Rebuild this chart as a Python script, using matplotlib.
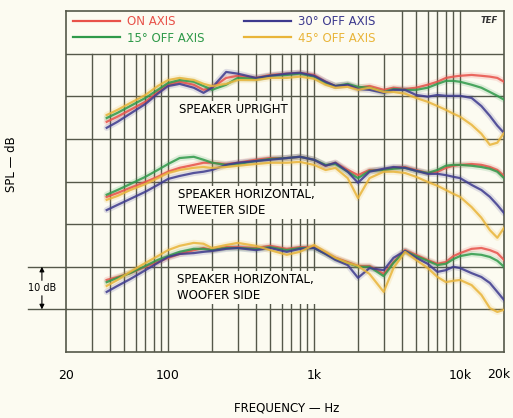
import matplotlib
matplotlib.use("Agg")
import matplotlib.pyplot as plt
from matplotlib.lines import Line2D
from matplotlib.transforms import blended_transform_factory

# frequenz-punkte (Hz), gemeinsam fuer alle kurven
FREQ = [38, 45, 55, 70, 85, 100, 120, 150, 175, 200, 250, 300, 400, 500, 650,
        800, 1000, 1200, 1400, 1700, 2000, 2400, 3000, 3500, 4200, 5000, 6000,
        7000, 8000, 9000, 10000, 12000, 14000, 16000, 18000, 20000]

ANGLES = ["ON AXIS", "15° OFF AXIS", "30° OFF AXIS", "45° OFF AXIS"]
COLORS = ["#e8524a", "#2f9a4a", "#3d3a8e", "#e9b53a"]

# SPL (dB, relative) - speaker upright
UPRIGHT_ON = [54.0, 55.2, 56.8, 58.7, 61.0, 62.7, 63.4, 62.7, 61.5, 62.0, 64.3, 64.8,
              64.3, 65.0, 65.3, 65.5, 65.0, 63.4, 62.4, 62.7, 62.0, 62.4, 61.5, 62.0,
              61.7, 62.0, 62.7, 63.4, 64.3, 64.6, 64.8, 65.0, 64.8, 64.6, 64.3, 63.4]
UPRIGHT_15 = [54.9, 56.1, 57.7, 59.6, 61.5, 63.1, 63.8, 63.4, 62.4, 61.5, 62.7, 64.3,
              64.1, 64.8, 65.0, 65.3, 64.6, 63.1, 62.4, 62.9, 62.2, 62.0, 61.0, 61.7,
              61.5, 61.5, 62.0, 62.9, 63.6, 63.6, 63.4, 62.7, 62.0, 61.0, 60.1, 59.2]
UPRIGHT_30 = [52.6, 54.0, 55.9, 58.2, 60.6, 62.4, 62.9, 62.0, 60.8, 62.0, 65.7, 65.3,
              64.3, 64.8, 65.3, 65.5, 64.8, 63.4, 62.4, 62.7, 61.7, 61.5, 60.8, 61.5,
              61.5, 60.3, 59.9, 60.3, 60.1, 60.1, 60.1, 59.6, 57.7, 55.4, 53.1, 51.4]
UPRIGHT_45 = [55.6, 56.8, 58.4, 60.3, 62.4, 63.8, 64.3, 63.8, 62.9, 62.4, 62.9, 63.8,
              63.8, 64.3, 64.3, 64.6, 64.1, 62.7, 62.0, 62.2, 61.5, 62.0, 61.0, 61.0,
              60.6, 59.6, 58.7, 57.7, 56.8, 55.9, 55.2, 53.3, 51.2, 48.6, 49.1, 51.4]

# speaker horizontal, tweeter side
TWEETER_ON = [36.4, 37.3, 38.5, 39.9, 41.1, 42.3, 43.2, 43.9, 44.4, 44.4, 44.1, 44.4,
              45.1, 45.5, 45.5, 45.8, 45.1, 43.7, 44.4, 42.7, 41.5, 42.7, 42.7, 43.2,
              43.4, 42.7, 42.0, 42.3, 43.2, 43.7, 43.9, 44.1, 43.9, 43.4, 42.7, 41.3]
TWEETER_15 = [36.9, 38.0, 39.4, 41.1, 42.7, 44.1, 45.5, 45.8, 45.1, 44.4, 43.9, 44.1,
              44.8, 45.3, 45.5, 45.8, 45.1, 43.9, 44.1, 42.3, 40.8, 42.5, 42.7, 43.0,
              43.2, 42.5, 42.0, 42.7, 43.7, 43.9, 43.9, 43.7, 43.4, 43.0, 42.3, 40.8]
TWEETER_30 = [33.3, 34.5, 35.9, 37.6, 39.2, 40.6, 41.3, 42.0, 42.3, 42.7, 43.9, 44.4,
              44.8, 45.1, 45.5, 45.8, 45.1, 43.7, 44.4, 42.3, 39.7, 42.3, 43.0, 43.4,
              43.2, 42.5, 41.8, 41.8, 41.5, 41.1, 40.8, 39.2, 38.0, 36.4, 34.5, 32.6]
TWEETER_45 = [35.7, 36.6, 38.0, 39.4, 40.8, 42.0, 42.7, 43.2, 43.4, 43.2, 43.4, 43.7,
              44.1, 44.4, 44.4, 44.6, 43.9, 42.7, 43.2, 40.8, 36.1, 40.8, 42.3, 42.3,
              42.0, 41.1, 39.9, 39.0, 38.0, 37.1, 36.4, 34.0, 31.5, 28.6, 26.8, 29.1]

# speaker horizontal, woofer side
WOOFER_ON = [16.9, 17.6, 18.5, 20.0, 21.1, 22.1, 23.0, 23.9, 24.4, 23.9, 24.6, 24.6,
             24.4, 24.9, 24.2, 24.6, 24.6, 23.2, 22.1, 21.1, 20.2, 20.2, 18.3, 21.1,
             23.9, 22.8, 21.6, 20.7, 21.1, 22.5, 23.2, 24.2, 24.4, 23.9, 23.2, 21.6]
WOOFER_15 = [16.4, 17.4, 18.5, 20.2, 21.6, 22.5, 23.5, 24.2, 24.2, 23.9, 24.4, 24.4,
             24.2, 24.6, 23.9, 24.4, 24.4, 23.0, 21.8, 20.9, 20.0, 20.0, 17.8, 20.9,
             23.7, 22.5, 21.4, 20.4, 20.7, 21.8, 22.5, 23.0, 22.8, 22.3, 21.4, 20.0]
WOOFER_30 = [14.1, 15.5, 17.1, 19.2, 20.9, 22.3, 23.0, 23.2, 23.5, 23.7, 24.2, 24.4,
             23.9, 24.4, 23.5, 24.2, 24.4, 23.0, 21.6, 20.4, 17.4, 19.7, 19.2, 22.1,
             23.7, 22.1, 20.7, 18.8, 19.2, 20.0, 19.7, 18.5, 17.6, 16.2, 14.1, 12.2]
WOOFER_45 = [15.5, 16.9, 18.8, 20.9, 22.5, 23.9, 24.9, 25.6, 25.4, 24.4, 25.1, 25.6,
             24.9, 23.9, 22.8, 23.5, 25.1, 23.5, 22.1, 20.9, 20.2, 18.3, 14.1, 19.7,
             23.5, 21.6, 19.7, 17.6, 16.4, 16.7, 16.9, 15.7, 13.4, 10.3, 9.4, 9.9]

GROUPS = [
    ([UPRIGHT_ON, UPRIGHT_15, UPRIGHT_30, UPRIGHT_45], "SPEAKER UPRIGHT", 118, 56.8),
    ([TWEETER_ON, TWEETER_15, TWEETER_30, TWEETER_45], "SPEAKER HORIZONTAL,\nTWEETER SIDE", 117, 35.1),
    ([WOOFER_ON, WOOFER_15, WOOFER_30, WOOFER_45], "SPEAKER HORIZONTAL,\nWOOFER SIDE", 116, 15.1),
]

XTICKS = [20, 100, 1000, 10000, 20000]
XTICKLABELS = ["20", "100", "1k", "10k", "20k"]

BG = "#fcfbf1"
GRID = "#55584a"

plt.rcParams["font.family"] = ["DejaVu Sans"]

fig = plt.figure(figsize=(5.13, 4.18), dpi=100, facecolor=BG)
ax = fig.add_axes([66 / 513, 66 / 418, 438 / 513, 341 / 418])
ax.set_facecolor(BG)
ax.set_xscale("log")
ax.set_xlim(20, 20000)
ax.set_ylim(0, 80)

# raster - oben links liegt die legende
grid_f = [m * 10 ** d for d in (1, 2, 3) for m in range(1, 10)] + [10000]
for f in grid_f:
    if f <= 20:
        continue
    top = 80 if f >= 4000 else 70
    ax.plot([f, f], [0, top], color=GRID, lw=1.0, zorder=1)
for lvl in range(10, 80, 10):
    ax.axhline(lvl, color=GRID, lw=1.0, zorder=1)

for spine in ax.spines.values():
    spine.set_color(GRID)
    spine.set_linewidth(1.2)

for curves, title, tx, ty in GROUPS:
    for vals, col in zip(curves, COLORS):
        ax.plot(FREQ, vals, color=col, lw=4.5, alpha=0.15, zorder=3,
                solid_capstyle="round")
        ax.plot(FREQ, vals, color=col, lw=1.6, alpha=0.85, zorder=4,
                solid_joinstyle="round")
    ax.text(tx, ty, title, fontsize=8.5, va="center", ha="left", zorder=2,
            linespacing=1.3,
            bbox=dict(facecolor=BG, edgecolor="none", pad=1.5))

handles = [Line2D([], [], color=c, lw=1.6) for c in COLORS]
leg = ax.legend(handles, ANGLES, ncol=2, loc="upper left",
                bbox_to_anchor=(7 / 438, 1 - 4 / 341), frameon=False,
                fontsize=8.5, handlelength=4.0, handletextpad=0.6,
                columnspacing=3.3, labelspacing=0.3, borderpad=0,
                borderaxespad=0, labelcolor=COLORS)

ax.text(0.985, 0.985, "TEF", transform=ax.transAxes, ha="right", va="top",
        fontsize=6, fontstyle="italic", fontweight="bold", color="#333")

# letzte beschriftung (20k) separat, damit sie im bild bleibt
ax.set_xticks(XTICKS)
ax.set_xticklabels(XTICKLABELS[:-1] + [""], fontsize=9)
ax.xaxis.set_minor_locator(matplotlib.ticker.NullLocator())
ax.tick_params(axis="x", length=0, pad=12)
ax.set_yticks([])
fig.text(499 / 513, 1 - 375 / 418, XTICKLABELS[-1], ha="center", va="center",
         fontsize=9)

fig.text(287 / 513, 1 - 408 / 418, "FREQUENCY — Hz", ha="center", va="center",
         fontsize=8.5)
fig.text(12 / 513, 1 - 164 / 418, "SPL — dB", ha="center", va="center",
         rotation=90, fontsize=8.5)

# 10 dB massstab links
trans = blended_transform_factory(ax.transAxes, ax.transData)
for lvl in (10, 20):
    ax.plot([-0.087, 0], [lvl, lvl], color=GRID, lw=1.0, transform=trans,
            clip_on=False)
ax.text(-0.055, 15, "10 dB", transform=trans, ha="center", va="center",
        fontsize=7)
ax.annotate("", xy=(-0.055, 20), xytext=(-0.055, 16.8), xycoords=trans,
            textcoords=trans, annotation_clip=False,
            arrowprops=dict(arrowstyle="-|>", color="black", lw=0.8,
                            mutation_scale=7, shrinkA=0, shrinkB=0))
ax.annotate("", xy=(-0.055, 10), xytext=(-0.055, 13.2), xycoords=trans,
            textcoords=trans, annotation_clip=False,
            arrowprops=dict(arrowstyle="-|>", color="black", lw=0.8,
                            mutation_scale=7, shrinkA=0, shrinkB=0))

fig.savefig("out.png", dpi=100, facecolor=BG)
